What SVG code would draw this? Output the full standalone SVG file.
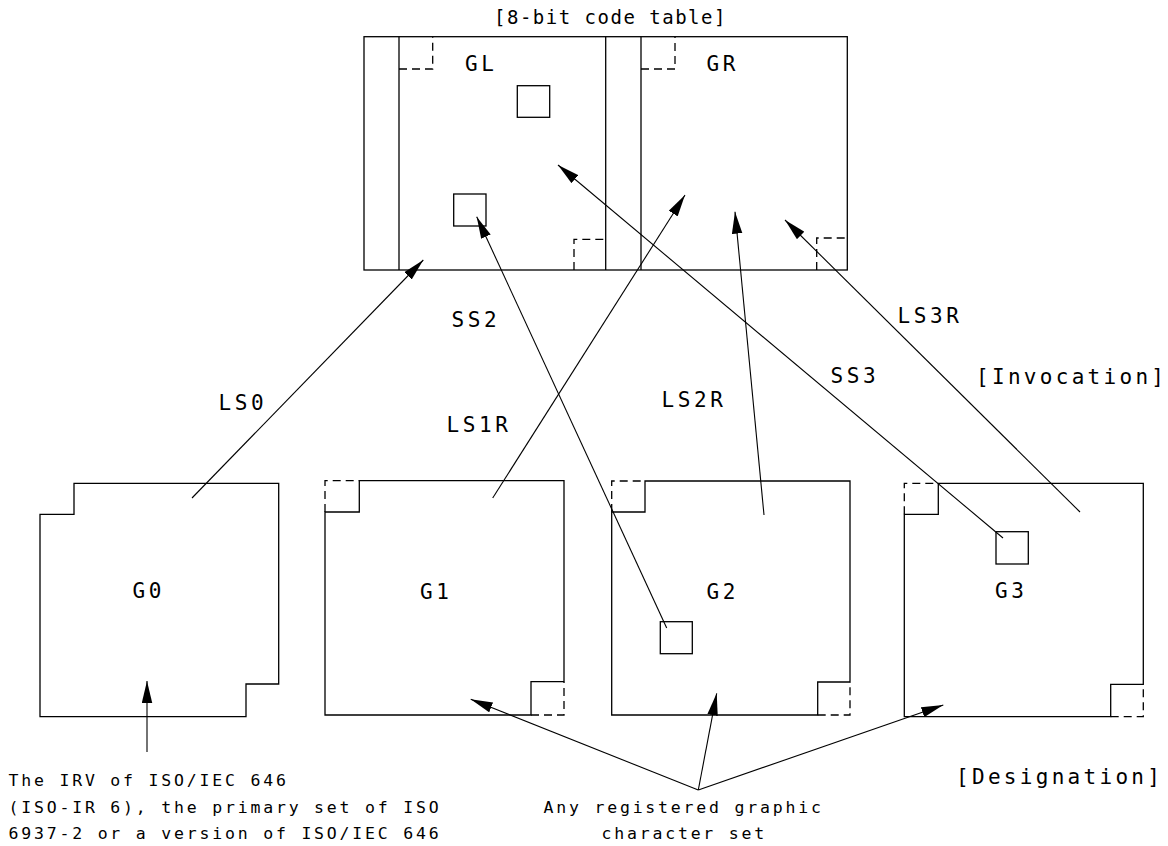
<svg xmlns="http://www.w3.org/2000/svg" width="1168" height="846" viewBox="0 0 1168 846">
<style>
.box{fill:none;stroke:#000;stroke-width:1.3}
.dash{fill:none;stroke:#000;stroke-width:1.3;stroke-dasharray:8 5}
.conn{fill:none;stroke:#000;stroke-width:1.1}
.lbl{font-family:"DejaVu Sans Mono","Liberation Mono",monospace;font-size:21px;letter-spacing:3.6px;fill:#000}
.ttl{font-family:"DejaVu Sans Mono","Liberation Mono",monospace;font-size:19px;letter-spacing:1.5px;fill:#000}
.note{font-family:"DejaVu Sans Mono","Liberation Mono",monospace;font-size:16.5px;letter-spacing:2.8px;fill:#000}
</style>
<defs>
<marker id="ah" markerUnits="userSpaceOnUse" markerWidth="22" markerHeight="11" viewBox="0 0 21 10" refX="21" refY="5" orient="auto">
<path d="M0,0 L21,5 L0,10 Z" fill="#000"/>
</marker>
</defs>
<rect width="1168" height="846" fill="#fff"/>

<g id="code-table">
<text class="ttl" x="494" y="24">[8-bit code table]</text>
<rect class="box" x="364" y="36.7" width="483.3" height="233.3"/>
<line class="box" x1="399" y1="36.7" x2="399" y2="270"/>
<line class="box" x1="605.7" y1="36.7" x2="605.7" y2="270"/>
<line class="box" x1="641" y1="36.7" x2="641" y2="270"/>
<path class="dash" d="M399,69 H432.7 V36.7"/>
<path class="dash" d="M641,69 H675 V36.7"/>
<path class="dash" d="M574,270 V239.3 H605.7"/>
<path class="dash" d="M816.7,270 V238 H847.3"/>
<rect class="box" x="517.3" y="85.7" width="32.4" height="31.6"/>
<rect class="box" x="453.7" y="194" width="32.3" height="32"/>
<text class="lbl" x="465" y="70.7">GL</text>
<text class="lbl" x="706.5" y="70.7">GR</text>
</g>

<g id="G0">
<path class="box" d="M74,483.3 H278.7 V684 H246 V716.7 H40 V514.3 H74 Z"/>
<text class="lbl" x="132.5" y="598.3">G0</text>
</g>

<g id="G1">
<path class="box" d="M359.3,480.7 H564 V681.7 H531 V715 H325 V512 H359.3 Z"/>
<path class="dash" d="M325,512 V480.7 H359.3"/>
<path class="dash" d="M531,715 H564 V681.7"/>
<text class="lbl" x="420" y="599.3">G1</text>
</g>

<g id="G2">
<path class="box" d="M645,481 H850 V682 H817.7 V715 H611.7 V512 H645 Z"/>
<path class="dash" d="M611.7,512 V481 H645"/>
<path class="dash" d="M817.7,715 H850 V682"/>
<rect class="box" x="660.3" y="621.7" width="32" height="32"/>
<text class="lbl" x="706.5" y="599">G2</text>
</g>

<g id="G3">
<path class="box" d="M938.3,483.3 H1143.3 V684.3 H1110.7 V716.7 H904.3 V514.3 H938.3 Z"/>
<path class="dash" d="M904.3,514.3 V483.3 H938.3"/>
<path class="dash" d="M1110.7,716.7 H1143.3 V684.3"/>
<rect class="box" x="996" y="531.7" width="32.3" height="32.3"/>
<text class="lbl" x="995" y="598.3">G3</text>
</g>

<g id="labels">
<text class="lbl" x="218.5" y="410">LS0</text>
<text class="lbl" x="451.5" y="326.7">SS2</text>
<text class="lbl" x="446.5" y="431.7">LS1R</text>
<text class="lbl" x="661.5" y="406.7">LS2R</text>
<text class="lbl" x="830.5" y="383.3">SS3</text>
<text class="lbl" x="897.5" y="323.3">LS3R</text>
<text class="lbl" x="976" y="384" style="letter-spacing:3.3px">[Invocation]</text>
<text class="lbl" x="956" y="784" style="letter-spacing:3.3px">[Designation]</text>
<text class="note" x="8.5" y="786">The IRV of ISO/IEC 646</text>
<text class="note" x="8.5" y="813">(ISO-IR 6), the primary set of ISO</text>
<text class="note" x="8.5" y="839">6937-2 or a version of ISO/IEC 646</text>
<text class="note" x="543.5" y="813">Any registered graphic</text>
<text class="note" x="601.5" y="839">character set</text>
</g>

<g id="connectors">
<line class="conn" x1="192" y1="498" x2="423.3" y2="260" marker-end="url(#ah)"/>
<line class="conn" x1="666.7" y1="628" x2="476.7" y2="216.7" marker-end="url(#ah)"/>
<line class="conn" x1="492.7" y1="498" x2="685" y2="195" marker-end="url(#ah)"/>
<line class="conn" x1="1003" y1="538" x2="558" y2="165" marker-end="url(#ah)"/>
<line class="conn" x1="764" y1="515" x2="735" y2="211.7" marker-end="url(#ah)"/>
<line class="conn" x1="1080" y1="512" x2="785" y2="220" marker-end="url(#ah)"/>
<line class="conn" x1="147" y1="752" x2="147" y2="681" marker-end="url(#ah)"/>
<line class="conn" x1="698.3" y1="790" x2="470.7" y2="699.3" marker-end="url(#ah)"/>
<line class="conn" x1="698.3" y1="790" x2="716.7" y2="693.3" marker-end="url(#ah)"/>
<line class="conn" x1="698.3" y1="790" x2="943.3" y2="705" marker-end="url(#ah)"/>
</g>
</svg>
